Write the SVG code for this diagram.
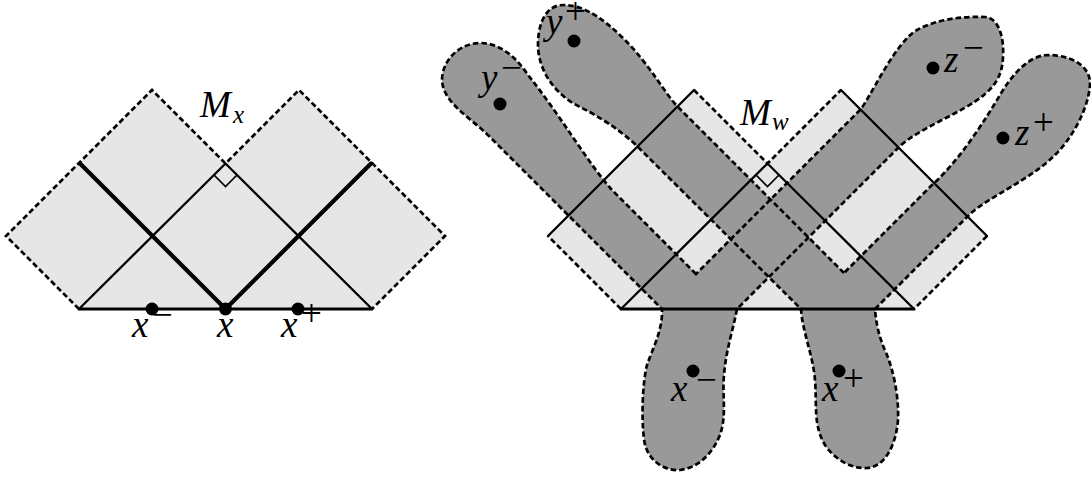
<svg xmlns="http://www.w3.org/2000/svg" width="1091" height="479" viewBox="0 0 1091 479">
<style>
.bg{fill:#fff}
.light{fill:#e6e6e6;stroke:none}
.dark{fill:#999999;stroke:none}
.dash{fill:none;stroke:#000;stroke-width:2.7;stroke-dasharray:5.5 3}
.thin{fill:none;stroke:#000;stroke-width:2.3;stroke-linecap:round;stroke-linejoin:miter}
.ra{fill:none;stroke:#000;stroke-width:1.7}
.thick{fill:none;stroke:#000;stroke-width:4.2;stroke-linecap:round}
.base{fill:none;stroke:#000;stroke-width:3}
.dot{fill:#000}
.lbl{font-family:"Liberation Serif","Times New Roman",serif;font-style:italic;font-size:37px;fill:#000}
.sup{font-style:normal;font-size:37px}
.sub{font-size:25px}
</style>
<defs>
<path id="shape1" d="M 696,274 L 612,190 C 590,166 560,115 528,75 C 516,57 500,43 480,43 C 460,43 442,60 442,80 C 443,103 470,117 490,137 L 662,309 C 663,330 652,350 647,365 C 642,385 641,425 645,445 C 650,462 665,471 680,470 C 697,468 712,455 720,435 C 727,415 722,395 724,375 C 726,350 733,330 737,309 L 898,148 C 918,128 965,112 985,94 C 997,84 1003,72 1003,55 C 1004,38 999,18 985,17 C 960,16 935,20 917,30 C 895,42 868,102 860,110 Z"/>
<path id="shape2" d="M 844,273 L 678,107 C 665,94 650,65 625,40 C 605,20 585,5 563,5 C 548,5 538,20 538,45 C 538,70 555,95 580,107 C 600,117 622,131 640,149 L 801,309 C 802,330 813,355 815,380 C 817,405 813,425 825,445 C 835,460 852,469 867,468 C 885,467 896,445 898,420 C 899,395 893,370 887,355 C 880,340 876,325 875,309 L 970,214 C 990,196 1030,180 1055,155 C 1072,138 1088,110 1090,85 C 1091,65 1070,55 1047,55 C 1028,56 1012,75 1000,95 C 985,120 960,160 933,184 Z"/>
</defs>
<rect class="bg" x="0" y="0" width="1091" height="479"/>

<g id="left-figure">
  <g id="Mx-region">
    <polygon class="light" points="79,309 6,236 152,90 225.5,163.5 299,90 445,236 372,309"/>
    <polyline class="dash" points="79,309 6,236 152,90 225.5,163.5 299,90 445,236 372,309"/>
  </g>
  <g id="left-lines">
    <polyline class="thin" points="79,309 225.5,163.5 372,309"/>
    <polyline class="ra" points="214,175 225.5,186.5 237,175"/>
    <polyline class="thick" points="80,163.5 225.5,309 371,163.5"/>
    <line class="base" x1="78" y1="309" x2="373" y2="309"/>
  </g>
  <g id="left-points">
    <circle class="dot" cx="152" cy="309" r="6.5"/>
    <circle class="dot" cx="225.5" cy="309" r="6.5"/>
    <circle class="dot" cx="298" cy="309" r="6.5"/>
  </g>
  <g id="left-labels">
    <text class="lbl"><tspan x="132" y="337">x</tspan><tspan class="sup" x="152" y="327">−</tspan></text>
    <text class="lbl" x="217" y="337">x</text>
    <text class="lbl"><tspan x="281" y="337">x</tspan><tspan class="sup" x="301" y="326">+</tspan></text>
    <text class="lbl"><tspan x="200" y="117">M</tspan><tspan class="sub" x="233" y="123">x</tspan></text>
  </g>
</g>

<g id="right-figure">
  <g id="Mw-region">
    <polygon class="light" points="621,309 548,236 694,90 767.5,163.5 841,90 987,236 914,309"/>
  </g>
  <g id="tubes-fill">
    <use href="#shape1" class="dark"/>
    <use href="#shape2" class="dark"/>
  </g>
  <g id="connectors">
    <use href="#shape1" class="dash"/>
    <use href="#shape2" class="dash"/>
    <polyline class="dash" points="621,309 548,236"/>
    <polyline class="dash" points="694,90 767.5,163.5 841,90"/>
    <polyline class="dash" points="987,236 914,309"/>
    <line class="thin" x1="548" y1="236" x2="694" y2="90"/>
    <line class="thin" x1="841" y1="90" x2="987" y2="236"/>
    <polyline class="thin" points="621,309 767.5,163.5 914,309"/>
    <polyline class="ra" points="756,175 767.5,186.5 779,175"/>
    <line class="base" x1="620" y1="309" x2="915" y2="309"/>
  </g>
  <g id="right-points">
    <circle class="dot" cx="500" cy="104" r="6.5"/>
    <circle class="dot" cx="574" cy="41" r="6.5"/>
    <circle class="dot" cx="933" cy="68" r="6.5"/>
    <circle class="dot" cx="1003" cy="138" r="6.5"/>
    <circle class="dot" cx="693" cy="371" r="6.5"/>
    <circle class="dot" cx="839" cy="371" r="6.5"/>
  </g>
  <g id="right-labels">
    <text class="lbl"><tspan x="740" y="125">M</tspan><tspan class="sub" x="772" y="130">w</tspan></text>
    <text class="lbl"><tspan x="481" y="90">y</tspan><tspan class="sup" x="501" y="80">−</tspan></text>
    <text class="lbl"><tspan x="546" y="34">y</tspan><tspan class="sup" x="565" y="24">+</tspan></text>
    <text class="lbl"><tspan x="944" y="72">z</tspan><tspan class="sup" x="963" y="60">−</tspan></text>
    <text class="lbl"><tspan x="1015" y="145">z</tspan><tspan class="sup" x="1033" y="135">+</tspan></text>
    <text class="lbl"><tspan x="671" y="401">x</tspan><tspan class="sup" x="696" y="392">−</tspan></text>
    <text class="lbl"><tspan x="822" y="401">x</tspan><tspan class="sup" x="843" y="391">+</tspan></text>
  </g>
</g>
</svg>
